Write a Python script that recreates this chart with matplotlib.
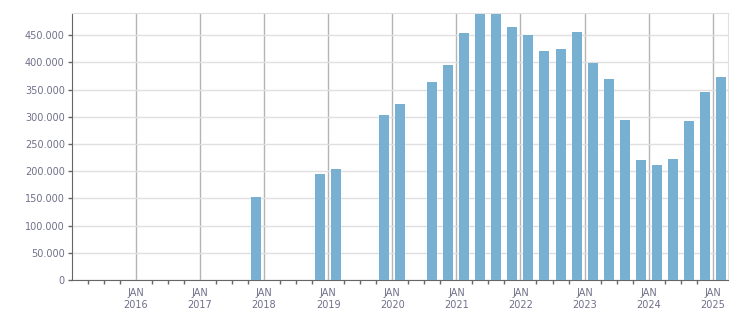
import numpy as np
import matplotlib.pyplot as plt
from matplotlib.ticker import FuncFormatter, FixedLocator

BAR_COLOR = "#78b0d2"
TEXT_COLOR = "#6f6f8a"

# quarterly values, 2015Q1 .. 2025Q1 (missing quarters are 0)
quarters = [
    "2015Q1", "2015Q2", "2015Q3", "2015Q4",
    "2016Q1", "2016Q2", "2016Q3", "2016Q4",
    "2017Q1", "2017Q2", "2017Q3", "2017Q4",
    "2018Q1", "2018Q2", "2018Q3", "2018Q4",
    "2019Q1", "2019Q2", "2019Q3", "2019Q4",
    "2020Q1", "2020Q2", "2020Q3", "2020Q4",
    "2021Q1", "2021Q2", "2021Q3", "2021Q4",
    "2022Q1", "2022Q2", "2022Q3", "2022Q4",
    "2023Q1", "2023Q2", "2023Q3", "2023Q4",
    "2024Q1", "2024Q2", "2024Q3", "2024Q4",
    "2025Q1",
]
values = [
    0, 0, 0, 0,
    0, 0, 0, 0,
    0, 0, 0, 152500,
    0, 0, 0, 195000,
    204000, 0, 0, 303000,
    323500, 0, 364000, 395000,
    453500, 489000, 489000, 464500,
    450000, 420500, 424000, 455500,
    398500, 369000, 294000, 220500,
    211500, 222000, 292000, 345000,
    373000,
]
years = list(range(2016, 2026))


def quarter_center(q):
    y, n = q.split("Q")
    return int(y) + (int(n) - 1) * 0.25 + 0.125


def fmt_thousands(v, pos):
    return f"{int(v):,}".replace(",", ".")


x = [quarter_center(q) for q in quarters]

fig = plt.figure(figsize=(7.51, 3.13), dpi=100)
ax = fig.add_axes([0.0955, 0.1054, 0.8745, 0.852])

ax.bar(x, values, width=0.156, color=BAR_COLOR, linewidth=0, zorder=3)

ax.set_xlim(2015, 2025.245)
ax.set_ylim(0, 490000)

ax.set_yticks(np.arange(0, 450001, 50000))
ax.yaxis.set_major_formatter(FuncFormatter(fmt_thousands))
ax.xaxis.set_major_locator(FixedLocator(years))
ax.set_xticklabels([f"JAN\n{y}" for y in years])
ax.xaxis.set_minor_locator(FixedLocator(np.arange(2015.25, 2025.25, 0.25)))

ax.grid(axis="y", color="#e0e0e0", linewidth=1, zorder=0)
ax.grid(axis="x", which="major", color="#b4b4b4", linewidth=1, zorder=1)
ax.set_axisbelow(True)

ax.tick_params(axis="both", which="both", colors="#666666", labelcolor=TEXT_COLOR,
               labelsize=7, length=3, width=1)
ax.tick_params(axis="y", pad=2)
ax.tick_params(axis="x", which="major", length=0, pad=6)
for lbl in ax.get_xticklabels():
    lbl.set_linespacing(1.25)

for s in ("left", "bottom"):
    ax.spines[s].set_color("#666666")
for s in ("top", "right"):
    ax.spines[s].set_color("#e0e0e0")

fig.savefig("out.png", dpi=100)
